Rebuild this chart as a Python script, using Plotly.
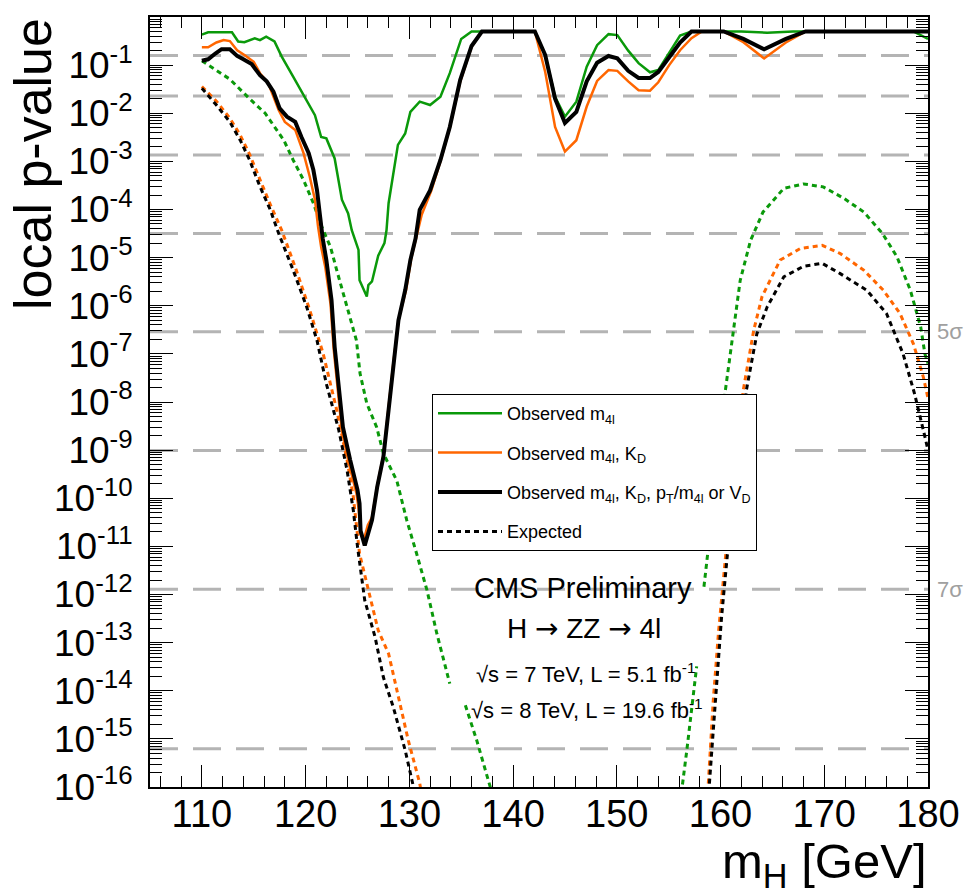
import numpy as np
import plotly.graph_objects as go

# observed, m4l only
obs_m4l_mass = [110.0, 110.6, 112.9, 113.5, 114.1, 115.1, 115.6, 116.2, 117.0, 117.7, 118.8, 119.8,
                120.9, 121.5, 122.0, 122.8, 123.5, 124.1, 124.45, 125.1, 125.2, 125.9, 126.05, 126.4,
                127.0, 127.6, 127.8, 128.0, 128.9, 129.6, 130.1, 131.0, 132.0, 133.0, 133.9, 135.0,
                136.0, 142.1, 143.1, 144.05, 145.0, 146.1, 147.1, 148.1, 149.2, 150.05, 151.1, 152.1,
                153.2, 154.0, 155.05, 156.1, 157.2, 162.0, 164.5, 167.0, 178.6, 180.0]
obs_m4l_p = [0.43, 0.48, 0.48, 0.31, 0.30, 0.36, 0.33, 0.39, 0.31, 0.15, 0.058, 0.024,
             9.1e-3, 3.2e-3, 3.0e-3, 1.15e-3, 1.6e-4, 8.3e-5, 3.7e-5, 1.45e-5, 3.4e-6, 1.55e-6, 2.7e-6, 3.2e-6,
             1.1e-5, 2.0e-5, 3.7e-5, 1.35e-4, 2.2e-3, 3.8e-3, 0.0107, 0.0174, 0.0148, 0.022, 0.068, 0.35,
             0.5, 0.5, 0.162, 0.022, 8.5e-3, 0.0174, 0.093, 0.26, 0.44, 0.42, 0.20, 0.11,
             0.071, 0.079, 0.178, 0.41, 0.5, 0.5, 0.47, 0.5, 0.5, 0.35]

# observed, m4l + KD
obs_kd_mass = [110.0, 110.6, 111.4, 112.1, 112.7, 113.4, 114.1, 115.0, 115.6, 116.4, 117.4, 118.0,
               119.0, 119.8, 120.4, 120.9, 121.2, 121.5, 121.9, 122.4, 122.7, 123.1, 123.5, 124.2,
               124.9, 125.1, 125.3, 125.6, 126.0, 126.4, 126.9, 127.5, 128.0, 128.5, 129.0, 129.7,
               130.2, 130.7, 131.2, 132.1, 133.0, 133.9, 134.9, 136.0, 137.0, 142.1, 143.1, 144.05,
               145.0, 146.1, 147.1, 148.1, 149.2, 150.05, 151.1, 152.1, 153.2, 154.0, 155.05, 156.1,
               157.2, 158.2, 160.3, 162.2, 164.2, 166.3, 168.2, 180.0]
obs_kd_p = [0.234, 0.234, 0.295, 0.331, 0.316, 0.204, 0.162, 0.117, 0.068, 0.042, 0.0117, 6.6e-3,
            4.5e-3, 1.48e-3, 4.8e-4, 1.6e-4, 4.4e-5, 1.66e-5, 6.3e-6, 1.1e-6, 1.3e-7, 1.6e-8, 2.5e-9, 5.0e-10,
            1.26e-10, 6.3e-11, 1.8e-11, 1.35e-11, 2.8e-11, 4.0e-11, 1.8e-10, 7.9e-10, 7.9e-9, 7.9e-8, 5.6e-7, 2.2e-6,
            1.0e-5, 2.8e-5, 7.9e-5, 2.4e-4, 1.0e-3, 5.0e-3, 0.045, 0.24, 0.5, 0.5, 0.072, 5.2e-3,
            1.6e-3, 2.75e-3, 0.0138, 0.047, 0.079, 0.076, 0.046, 0.030, 0.0295, 0.044, 0.10, 0.204,
            0.363, 0.5, 0.5, 0.30, 0.138, 0.295, 0.5, 0.5]

# observed, m4l + KD + pT/m4l or VD
obs_all_mass = [110.0, 110.6, 111.3, 111.9, 112.7, 113.4, 114.0, 114.8, 115.6, 116.25, 116.9, 117.5,
                118.2, 119.0, 119.6, 120.3, 120.75, 121.1, 121.4, 121.65, 122.0, 122.5, 122.8, 123.2,
                123.6, 124.3, 125.0, 125.2, 125.3, 125.7, 126.05, 126.4, 126.9, 127.5, 128.0, 128.5,
                128.95, 129.6, 130.1, 130.6, 131.0, 132.0, 133.0, 133.9, 134.9, 136.0, 137.0, 142.1,
                143.1, 144.05, 145.0, 146.1, 147.1, 148.1, 149.2, 150.05, 151.1, 152.1, 153.2, 154.0,
                155.05, 156.1, 157.2, 160.3, 162.2, 164.2, 166.3, 168.2, 180.0]
obs_all_p = [0.123, 0.132, 0.174, 0.214, 0.214, 0.155, 0.132, 0.105, 0.062, 0.046, 0.028, 0.0126,
             8.5e-3, 6.6e-3, 3.2e-3, 1.48e-3, 6.6e-4, 2.5e-4, 7.1e-5, 2.5e-5, 8.9e-6, 1.3e-6, 1.4e-7, 1.8e-8,
             3.0e-9, 6.2e-10, 1.5e-10, 7.8e-11, 2.1e-11, 1.05e-11, 2.1e-11, 3.5e-11, 1.7e-10, 7.2e-10, 6.8e-9, 6.3e-8,
             5.0e-7, 2.1e-6, 8.9e-6, 2.5e-5, 9.8e-5, 2.5e-4, 1.07e-3, 5.2e-3, 0.049, 0.25, 0.5, 0.5,
             0.162, 0.020, 6.3e-3, 0.0107, 0.046, 0.112, 0.155, 0.138, 0.076, 0.054, 0.054, 0.072,
             0.151, 0.295, 0.5, 0.5, 0.35, 0.214, 0.35, 0.5, 0.5]

# expected curves (None = gap in the drawn curve)
exp_m4l_mass = [110.0, 112.7, 114.6, 116.1, 117.9, 118.8, 119.8, 120.75, 121.55, 122.4, 123.0, 124.3,
                124.9, 125.25, 125.9, 126.85, 127.5, 128.8, 129.75, 130.7, 131.7, 132.65, 133.9, 134.6,
                135.4, 136.5, 137.8, 138.0,
                156.2, 156.3, 156.75, 157.7, 158.0, 158.4, 158.8, 159.5, 160.45, 161.25, 161.9, 162.9,
                164.1, 166.1, 168.0, 169.9, 171.9, 173.8, 175.6, 177.0, 178.3, 179.3, 179.7, 180.0]
exp_m4l_p = [0.123, 0.051, 0.020, 0.010, 2.75e-3, 1.07e-3, 4.1e-4, 1.35e-4, 4.4e-5, 1.66e-5, 5.5e-6, 5.9e-7,
             1.9e-7, 3.9e-8, 9.3e-9, 3.0e-9, 8.5e-10, 2.3e-10, 3.5e-11, 7.1e-12, 1.23e-12, 1.55e-13, 1.4e-14, None,
             5.0e-15, 9.3e-16, 1.0e-16, 5.0e-17,
             5.0e-17, 1.0e-16, 5.8e-16, 3.2e-14, None, 1.45e-12, 8.3e-12, 5.0e-10, 1.5e-8, 3.1e-7, 3.4e-6, 2.3e-5,
             8.9e-5, 2.75e-4, 3.4e-4, 2.95e-4, 1.7e-4, 8.9e-5, 3.2e-5, 1.05e-5, 2.1e-6, 3.6e-7, 1.0e-7, 6.3e-8]

exp_kd_mass = [110.0, 111.4, 112.7, 113.7, 114.6, 115.6, 116.6, 117.7, 119.1, 120.4, 121.7, 123.0,
               124.0, 124.6, 125.2, 125.9, 127.0, 128.0, 128.8, 129.9, 131.0, 131.3, None,
               158.7, 158.8, 159.3, 159.8, 160.45, 161.3, 162.2, 163.2, 164.0, 165.75, 167.7, 169.8,
               171.5, 173.8, 175.7, 177.3, 178.6, 179.55, 180.0]
exp_kd_p = [0.036, 0.0178, 7.9e-3, 3.5e-3, 1.4e-3, 4.0e-4, 1.26e-4, 3.7e-5, 5.5e-6, 8.1e-7, 1.0e-7, 6.8e-9,
            6.2e-10, 1.07e-10, 7.1e-12, 1.7e-12, 1.8e-13, 5.9e-14, 1.0e-14, 9.3e-16, 1.2e-16, 5.0e-17, None,
            5.0e-17, 1.0e-16, 6.3e-15, 1.6e-13, 5.1e-12, 4.0e-10, 1.8e-8, 3.1e-7, 1.55e-6, 8.9e-6, 1.55e-5, 1.8e-5,
            1.23e-5, 5.5e-6, 2.1e-6, 6.9e-7, 1.6e-7, 3.3e-8, 1.2e-8]

exp_all_mass = [110.0, 111.4, 112.7, 113.7, 114.6, 115.6, 116.6, 117.4, 118.8, 120.1, 121.1, 122.0,
                123.2, 124.0, 124.6, 125.0, 125.7, 126.7, 127.5, 128.45, 129.6, 130.4, 130.6, None,
                158.8, 158.9, 159.6, 160.1, 160.7, 161.6, 162.5, 163.5, 164.5, 166.1, 168.0, 169.8,
                171.5, 174.1, 176.0, 177.6, 178.7, 179.7, 180.0]
exp_all_p = [0.033, 0.0148, 6.6e-3, 2.75e-3, 1.07e-3, 3.0e-4, 9.8e-5, 3.2e-5, 5.5e-6, 9.5e-7, 1.9e-7, 2.4e-8,
             2.6e-9, 3.8e-10, 5.6e-11, 1.0e-11, 7.6e-13, 1.3e-13, 1.9e-14, 4.6e-15, 5.8e-16, 1.0e-16, 5.0e-17, None,
             5.0e-17, 1.0e-16, 1.4e-14, 3.4e-13, 8.3e-12, 4.0e-10, 1.8e-8, 2.6e-7, 9.5e-7, 4.0e-6, 6.6e-6, 7.6e-6,
             4.7e-6, 2.1e-6, 6.9e-7, 1.0e-7, 1.5e-8, 1.9e-9, 1.0e-9]

# one-sided p-values for 1..8 sigma
sigma_levels = [1, 2, 3, 4, 5, 6, 7, 8]
sigma_p = [0.1587, 0.02275, 1.35e-3, 3.167e-5, 2.867e-7, 9.866e-10, 1.28e-12, 6.22e-16]
sigma_labelled = [5, 7]

x_ticks = [110, 120, 130, 140, 150, 160, 170, 180]
y_decades = list(range(0, -17, -1))
y_ticktext = ['1'] + ['10<sup>%d</sup>' % d for d in y_decades[1:]]
y_minor = [m * 10.0 ** d for d in range(-16, 0) for m in range(2, 10)]

GREEN = '#0a990a'
ORANGE = '#ff6600'
FONT = 'Liberation Sans, Arial, Helvetica, sans-serif'
ARROW = '<span style="font-family:DejaVu Sans">\u2192</span>'

W, H = 965, 896
L, R, T, B = 150, 37, 17, 109
PW, PH = W - L - R, H - T - B


def py(y_px):
    # pixel row -> paper y
    return (H - B - y_px) / PH


def px(x_px):
    return (x_px - L) / PW


fig = go.Figure()

for p in sigma_p:
    fig.add_trace(go.Scatter(x=[105, 180], y=[p, p], mode='lines', showlegend=False, hoverinfo='skip',
                             line=dict(color='#b4b4b4', width=3, dash='28px,15px')))

fig.add_trace(go.Scatter(x=exp_m4l_mass, y=exp_m4l_p, mode='lines', showlegend=False,
                         line=dict(color=GREEN, width=3, dash='5px,4px')))
fig.add_trace(go.Scatter(x=exp_kd_mass, y=exp_kd_p, mode='lines', showlegend=False,
                         line=dict(color=ORANGE, width=3, dash='5px,4px')))
fig.add_trace(go.Scatter(x=exp_all_mass, y=exp_all_p, mode='lines', name='Expected', legendrank=4,
                         legendgroup='d', line=dict(color='black', width=3, dash='5px,4px')))
fig.add_trace(go.Scatter(x=obs_m4l_mass, y=obs_m4l_p, mode='lines', name='Observed m<sub>4l</sub>',
                         legendrank=1, legendgroup='a', line=dict(color=GREEN, width=2.5)))
fig.add_trace(go.Scatter(x=obs_kd_mass, y=obs_kd_p, mode='lines',
                         name='Observed m<sub>4l</sub>, K<sub>D</sub>',
                         legendrank=2, legendgroup='b', line=dict(color=ORANGE, width=2.5)))
fig.add_trace(go.Scatter(x=obs_all_mass, y=obs_all_p, mode='lines',
                         name='Observed m<sub>4l</sub>, K<sub>D</sub>, p<sub>T</sub>/m<sub>4l</sub> or V<sub>D</sub>',
                         legendrank=3, legendgroup='c', line=dict(color='black', width=4)))
# invisible trace carrying the minor-tick axis
fig.add_trace(go.Scatter(x=[105], y=[1e-20], yaxis='y2', mode='markers', showlegend=False,
                         hoverinfo='skip', marker=dict(opacity=0)))

annotations = [
    dict(text='local p-value', xref='paper', yref='paper', x=px(33), y=py(164), textangle=-90,
         showarrow=False, xanchor='center', yanchor='middle', font=dict(size=52)),
    dict(text='m<sub>H</sub> [GeV]', xref='paper', yref='paper', x=px(929), y=py(832), showarrow=False,
         xanchor='right', yanchor='top', font=dict(size=49)),
    dict(text='CMS Preliminary', xref='x', yref='paper', x=146.7, y=py(606), showarrow=False,
         font=dict(size=29)),
    dict(text='H ' + ARROW + ' ZZ ' + ARROW + ' 4l', xref='x', yref='paper', x=146.8, y=py(647),
         showarrow=False, font=dict(size=28)),
    dict(text='\u221As = 7 TeV, L = 5.1 fb<sup>-1</sup>', xref='x', yref='paper', x=147.0,
         y=py(689), showarrow=False, font=dict(size=22)),
    dict(text='\u221As = 8 TeV, L = 19.6 fb<sup>-1</sup>', xref='x', yref='paper', x=147.1,
         y=py(725), showarrow=False, font=dict(size=22)),
]
for s, p in zip(sigma_levels, sigma_p):
    if s in sigma_labelled:
        annotations.append(dict(text='%d\u03c3' % s, xref='paper', yref='y', x=px(935), y=np.log10(p),
                                xanchor='left', showarrow=False, font=dict(size=22, color='#a0a0a0')))

fig.update_layout(
    width=W, height=H,
    margin=dict(l=L, r=R, t=T, b=B, autoexpand=False),
    paper_bgcolor='white', plot_bgcolor='white',
    font=dict(family=FONT, color='black'),
    hovermode=False,
    annotations=annotations,
    legend=dict(x=px(432), y=py(394), xanchor='left', yanchor='top', bgcolor='white',
                bordercolor='black', borderwidth=1, font=dict(size=18),
                tracegroupgap=13, itemwidth=64, traceorder='grouped'),
    xaxis=dict(range=[105, 180], tickvals=x_ticks, ticks='inside', ticklen=22, tickwidth=1,
               tickcolor='black', showline=True, linecolor='black', linewidth=2, mirror='ticks',
               showgrid=False, zeroline=False, tickfont=dict(size=38), ticklabelstandoff=-8,
               minor=dict(dtick=2, tick0=110, ticks='inside', ticklen=11, tickcolor='black', showgrid=False)),
    yaxis=dict(type='log', range=[-16, 0], tickvals=[10.0 ** d for d in y_decades], ticktext=y_ticktext,
               ticks='inside', ticklen=23, tickwidth=1, tickcolor='black', showline=True,
               linecolor='black', linewidth=2, mirror='ticks', showgrid=False, zeroline=False,
               tickfont=dict(size=37), ticklabelstandoff=8),
    yaxis2=dict(type='log', range=[-16, 0], overlaying='y', side='left', tickvals=y_minor,
                ticks='inside', ticklen=12, tickwidth=1, tickcolor='black', mirror='ticks',
                showline=False, showgrid=False, zeroline=False, showticklabels=False),
)

# drop the default page margin so the figure fills the window exactly
fig.write_html('out.html', config={'displayModeBar': False},
               post_script="document.body.style.margin='0';document.body.style.overflow='hidden';")
